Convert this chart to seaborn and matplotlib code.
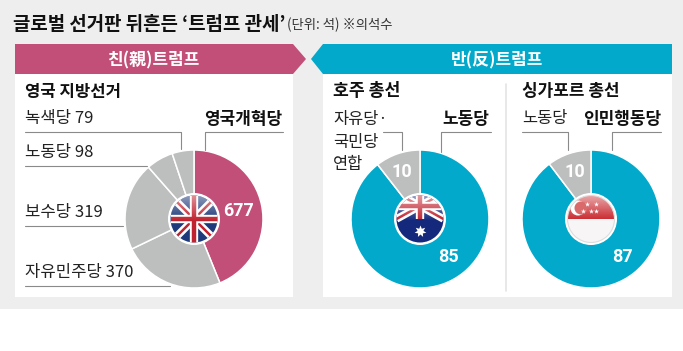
import numpy as np
import matplotlib
matplotlib.use("Agg")
import matplotlib.pyplot as plt
from matplotlib.patches import Circle, Polygon, Rectangle
import seaborn as sns

# Data
uk_parties = ["영국개혁당", "자유민주당", "보수당", "노동당", "녹색당"]
uk_seats = [677, 370, 319, 98, 79]
au_parties = ["노동당", "자유당·\n국민당\n연합"]
au_seats = [85, 10]
sg_parties = ["인민행동당", "노동당"]
sg_seats = [87, 10]

title = "글로벌 선거판 뒤흔든 ‘트럼프 관세’"
unit_note = "(단위: 석) ※의석수"
pro_label = "친(親)트럼프"
anti_label = "반(反)트럼프"

MAGENTA = "#c24f78"
CYAN = "#02a9cb"
GRAY = "#bdbebe"
DARK = "#222222"
LINE = "#8a8a8a"

sns.set_theme(style="white")
plt.rcParams["font.family"] = ["Noto Sans CJK KR", "DejaVu Sans"]

W, H = 683, 351
fig = plt.figure(figsize=(W / 100, H / 100), dpi=100, facecolor="white")


def pixel_axes(zorder):
    ax = fig.add_axes([0, 0, 1, 1], zorder=zorder)
    ax.set_xlim(0, W)
    ax.set_ylim(H, 0)
    ax.axis("off")
    ax.patch.set_alpha(0)
    return ax


bg = pixel_axes(0)
top = pixel_axes(5)

# Background, panels and headers
bg.add_patch(Rectangle((0, 0), W, 309, color="#eeeeee", lw=0))
bg.add_patch(Rectangle((15, 74), 278, 223, color="white", lw=0))
bg.add_patch(Rectangle((323, 74), 349, 223, color="white", lw=0))
bg.add_patch(Polygon([(15, 44), (293, 44), (306, 59), (293, 74), (15, 74)], color=MAGENTA, lw=0))
bg.add_patch(Polygon([(323, 44), (672, 44), (672, 74), (323, 74), (311, 59)], color=CYAN, lw=0))
bg.plot([506, 506], [84, 291], color="#e4e4e4", lw=1.2)

top.text(13, 24, title, fontsize=13.6, fontweight="bold", color="#111111", va="center")
top.text(287, 25, unit_note, fontsize=9.6, color="#333333", va="center")
top.text(153, 60, pro_label, fontsize=12.2, fontweight="bold", color="white", ha="center", va="center")
top.text(497, 60, anti_label, fontsize=12.2, fontweight="bold", color="white", ha="center", va="center")


# Donuts, one axes per pie
def draw_pie(cx, seats, colors):
    r = 69
    cy = 219
    ax = fig.add_axes([(cx - r) / W, 1 - (cy + r) / H, 2 * r / W, 2 * r / H], zorder=2)
    ax.pie(seats, colors=colors, startangle=90, counterclock=False, radius=1,
           wedgeprops={"edgecolor": "white", "linewidth": 1.1})
    ax.set_xlim(-1, 1)
    ax.set_ylim(-1, 1)


draw_pie(194, uk_seats, [MAGENTA, GRAY, GRAY, GRAY, GRAY])
draw_pie(420, au_seats, [CYAN, GRAY])
draw_pie(591, sg_seats, [CYAN, GRAY])


# Round flags in the middle of the pies
def flag_disc(cx, cy=219, r=23.5):
    top.add_patch(Circle((cx, cy), 26, color="white", lw=0, zorder=6))
    clip = Circle((cx, cy), r, transform=top.transData)
    return clip, r


def union_jack(cx, cy, w, h, clip, zorder=7):
    x0, x1, y0, y1 = cx - w, cx + w, cy - h, cy + h
    for (a, b), color, lw, z in [
        (((x0, y0), (x1, y1)), "white", 5.5, 0), (((x0, y1), (x1, y0)), "white", 5.5, 0),
        (((x0, y0), (x1, y1)), "#c1222f", 1.8, 0.1), (((x0, y1), (x1, y0)), "#c1222f", 1.8, 0.1),
        (((cx, y0), (cx, y1)), "white", 6, 0.2), (((x0, cy), (x1, cy)), "white", 6, 0.2),
        (((cx, y0), (cx, y1)), "#c1222f", 3.2, 0.3), (((x0, cy), (x1, cy)), "#c1222f", 3.2, 0.3),
    ]:
        ln, = top.plot([a[0], b[0]], [a[1], b[1]], color=color, lw=lw, zorder=zorder + z,
                       solid_capstyle="butt")
        ln.set_clip_path(clip)


def gloss(cx, clip, strength=0.55, cy=219, r=23.5):
    # soft white shine on the upper half
    grad = np.zeros((64, 2, 4))
    t = np.linspace(0, 1, 64)
    grad[..., :3] = 1.0
    grad[..., 3] = (strength * np.clip(1 - t / 0.55, 0, 1))[:, None]
    im = top.imshow(grad, extent=(cx - r, cx + r, cy + r, cy - r), aspect="auto", zorder=9)
    im.set_clip_path(clip)
    top.set_xlim(0, W)
    top.set_ylim(H, 0)


# UK
clip, r = flag_disc(194)
top.add_patch(Circle((194, 219), r, color="#1f3a7a", lw=0, zorder=6.5))
union_jack(194, 219, r, r, clip)
gloss(194, clip, 0.5)

# Australia
clip, r = flag_disc(420)
top.add_patch(Circle((420, 219), r, color="#14297c", lw=0, zorder=6.5))
union_jack(420, 206, r, 13, clip)
gloss(420, clip, 0.55)
top.scatter([420], [231], marker=(7, 1, 0), s=75, color="white", lw=0, zorder=10)

# Singapore
clip, r = flag_disc(591)
top.add_patch(Circle((591, 219), r, color="#f7f5f5", lw=0, zorder=6.5))
red = top.add_patch(Rectangle((591 - r, 219 - r), 2 * r, r, color="#c8252b", lw=0, zorder=7))
red.set_clip_path(clip)
gloss(591, clip, 0.6)
top.add_patch(Circle((578, 208), 7.5, color="white", lw=0, zorder=10))
top.add_patch(Circle((581, 208), 6.5, color="#d96a6c", lw=0, zorder=10))
top.scatter([587, 596, 583, 591, 596], [204, 204, 211, 211, 211],
            marker="*", s=14, color="white", lw=0, zorder=11)
top.add_patch(Circle((591, 219), r, fill=False, ec="#dddddd", lw=0.8, zorder=12))

# Section titles
top.text(25, 92, "영국 지방선거", fontsize=12, fontweight="bold", color="#111111", va="center")
top.text(333, 91, "호주 총선", fontsize=12.4, fontweight="bold", color="#111111", va="center")
top.text(522, 91, "싱가포르 총선", fontsize=12.2, fontweight="bold", color="#111111", va="center")

# UK labels with leader lines
label_kw = dict(fontsize=12, color=DARK, va="center")
top.text(25, 119, f"{uk_parties[4]} {uk_seats[4]}", **label_kw)
top.text(25, 153, f"{uk_parties[3]} {uk_seats[3]}", **label_kw)
top.text(25, 212, f"{uk_parties[2]} {uk_seats[2]}", **label_kw)
top.text(25, 272, f"{uk_parties[1]} {uk_seats[1]}", **label_kw)
top.text(243, 119, uk_parties[0], fontsize=12.2, fontweight="bold", color="#111111", ha="center", va="center")
for xs, ys in [
    ([25, 181, 181], [132, 132, 149]),
    ([25, 147], [166, 166]),
    ([25, 123], [226, 226]),
    ([25, 170], [286, 286]),
    ([283, 205, 205], [132, 132, 150]),
]:
    top.plot(xs, ys, color=LINE, lw=0.8)

# Australia labels
top.text(333, 142, au_parties[1], fontsize=11.8, color=DARK, va="center", linespacing=1.4)
top.text(466, 119, au_parties[0], fontsize=12.2, fontweight="bold", color="#111111", ha="center", va="center")
top.plot([383, 402, 402], [132, 132, 150], color=LINE, lw=0.8)
top.plot([491, 441, 441], [132, 132, 152], color=LINE, lw=0.8)

# Singapore labels
top.text(522, 119, sg_parties[1], fontsize=11.8, color=DARK, va="center")
top.text(622, 119, sg_parties[0], fontsize=12.2, fontweight="bold", color="#111111", ha="center", va="center")
top.plot([522, 568, 568], [132, 132, 150], color=LINE, lw=0.8)
top.plot([661, 612, 612], [132, 132, 150], color=LINE, lw=0.8)

# Values on the pies
value_kw = dict(fontsize=13, fontweight="bold", color="white", ha="center", va="center",
                family=["Roboto", "DejaVu Sans"], zorder=13)
top.text(238, 211, uk_seats[0], **value_kw)
top.text(402, 172, au_seats[1], **value_kw)
top.text(448, 257, au_seats[0], **value_kw)
top.text(575, 172, sg_seats[1], **value_kw)
top.text(622, 257, sg_seats[0], **value_kw)

fig.savefig("out.png", dpi=100)
